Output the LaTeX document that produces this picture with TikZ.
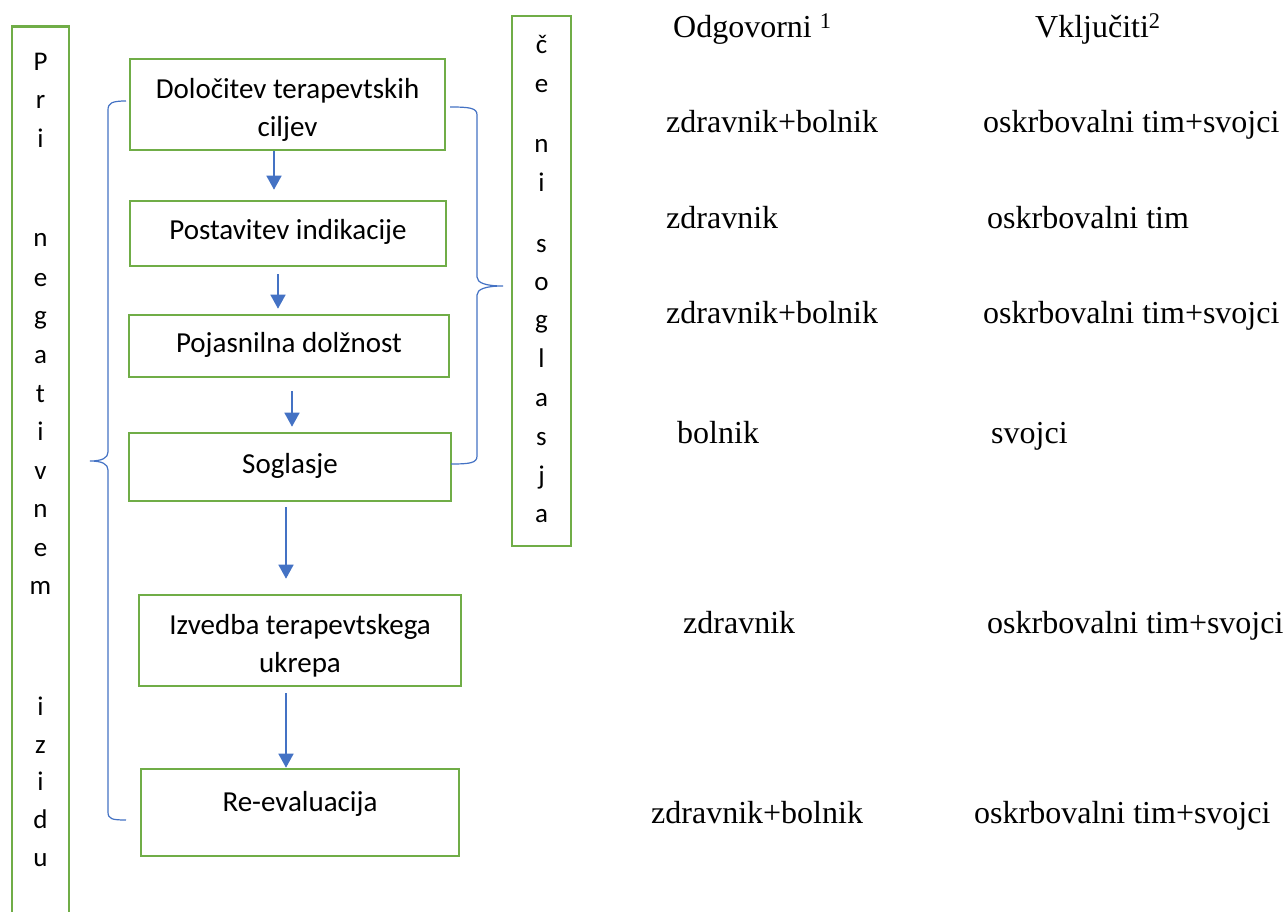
\documentclass[tikz,border=0pt]{standalone}
\usepackage{fontspec}
\setmainfont{Liberation Serif}
\newfontfamily\calibri{Carlito}
\usetikzlibrary{arrows.meta}
\definecolor{boxgreen}{HTML}{70AD47}
\definecolor{linkblue}{HTML}{4472C4}

\begin{document}
\begin{tikzpicture}[
  x=1pt, y=-1pt,
  box/.style 2 args={draw=boxgreen, line width=2.6pt, minimum width=#1, minimum height=#2, inner sep=0pt,
    align=center, font=\calibri\fontsize{29}{38}\selectfont, text height=20pt, text depth=7pt},
  bar/.style={draw=boxgreen, line width=2.6pt, inner sep=0pt},
  letter/.style={anchor=base, inner sep=0pt, font=\calibri\fontsize{27}{30}\selectfont},
  col/.style={anchor=base west, inner sep=0pt, font=\fontsize{32}{38}\selectfont},
  arrow/.style={-{Triangle[width=15pt,length=14pt]}, draw=linkblue, line width=1.5pt},
  brace/.style={draw=linkblue, line width=1.2pt}
]
\useasboundingbox (0,0) rectangle (1285,912);
\fill[white] (0,0) rectangle (1285,912);
\clip (0,0) rectangle (1285,912);

% side bars
\node[bar, minimum width=57pt, minimum height=950pt, anchor=north] (pri) at (40.5,25) {};
\node[bar, minimum width=59pt, minimum height=530pt] (ceni) at (541.5,281) {};
\foreach \ch/\yy in {P/71,r/109,i/148,n/247,e/286,g/324,a/363,t/402,i/440,v/479,n/517,e/556,m/594,i/715,z/753,i/790,d/828,u/866}
  \node[letter] at (40.5,\yy) {\ch};
\foreach \ch/\yy in {č/54,e/93,n/153,i/192,s/252,o/290,g/328,l/367,a/406,s/445,j/484,a/522}
  \node[letter] at (541.5,\yy) {\ch};

% steps
\node[box={315pt}{91pt}, text height=72pt] (cilji) at (287.5,104.5) {Določitev terapevtskih\\ciljev};
\node[box={316pt}{65pt}] (indik) at (288,233.5) {Postavitev indikacije};
\node[box={320pt}{62pt}] (pojas) at (289,346) {Pojasnilna dolžnost};
\node[box={322pt}{68pt}] (sogl) at (290,467) {Soglasje};
\node[box={322pt}{91pt}, text height=70pt] (izved) at (300,640.5) {Izvedba terapevtskega\\ukrepa};
\node[box={318pt}{87pt}, text depth=23pt] (reeval) at (300,812.5) {Re-evaluacija};

\draw[arrow, shorten >=10pt] ([xshift=-13.5pt]cilji.south) -- ([xshift=-14pt]indik.north);
\draw[arrow, shorten <=7pt, shorten >=5pt] ([xshift=-10pt]indik.south) -- ([xshift=-11pt]pojas.north);
\draw[arrow, shorten <=13pt, shorten >=5pt] ([xshift=3pt]pojas.south) -- ([xshift=2pt]sogl.north);
\draw[arrow, shorten <=5pt, shorten >=15pt] ([xshift=-4pt]sogl.south) -- ([xshift=-14pt]izved.north);
\draw[arrow, shorten <=6pt] ([xshift=-14pt]izved.south) -- ([xshift=-14pt]reeval.north);

% braces
\draw[brace] (126,101) .. controls (112,101) and (108,103) .. (108,110) -- (108,452)
  .. controls (108,458) and (102,461) .. (90,461) .. controls (102,461) and (108,464) .. (108,470)
  -- (108,812) .. controls (108,819) and (112,820) .. (126,820);
\draw[brace] (450,107) .. controls (470,107) and (477,108) .. (477,115) -- (477,277)
  .. controls (477,283) and (486,286) .. (503,286) .. controls (486,286) and (477,289) .. (477,295)
  -- (477,456) .. controls (477,463) and (470,464) .. (451,464);

% columns
\node[col] (odg) at (673,38) {Odgovorni \textsuperscript{1}};
\node[col] (vklj) at (1035,38) {Vključiti\textsuperscript{2}};
\node[col] (o1) at (666,133) {zdravnik+bolnik};
\node[col] (v1) at (983,133) {oskrbovalni tim+svojci};
\node[col] (o2) at (666,229) {zdravnik};
\node[col] (v2) at (987,229) {oskrbovalni tim};
\node[col] (o3) at (666,323) {zdravnik+bolnik};
\node[col] (v3) at (983,323) {oskrbovalni tim+svojci};
\node[col] (o4) at (677,443) {bolnik};
\node[col] (v4) at (991,443) {svojci};
\node[col] (o5) at (683,633) {zdravnik};
\node[col] (v5) at (987,633) {oskrbovalni tim+svojci};
\node[col] (o6) at (651,823) {zdravnik+bolnik};
\node[col] (v6) at (974,823) {oskrbovalni tim+svojci};
\end{tikzpicture}
\end{document}
